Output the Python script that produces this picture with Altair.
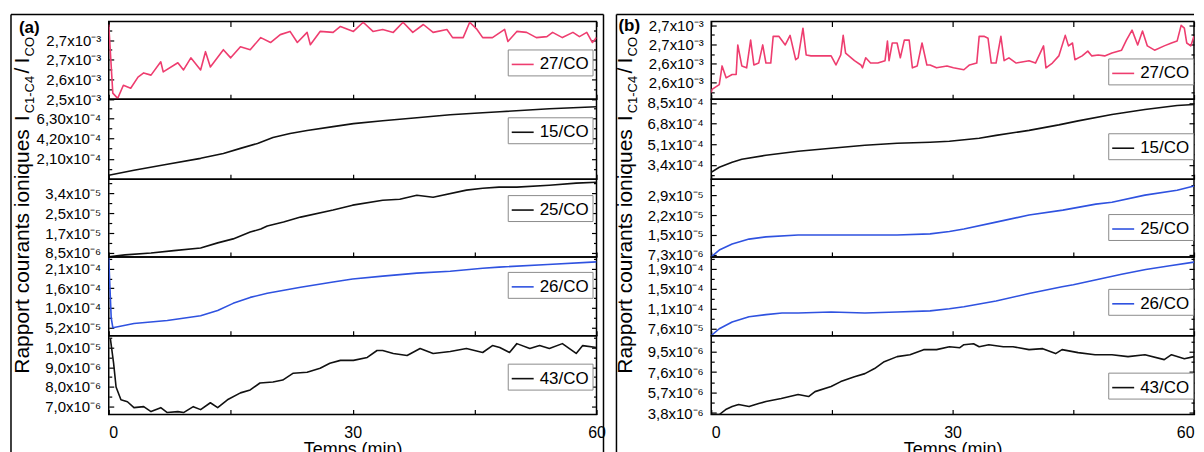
import altair as alt
import pandas as pd

# ---------------- panel (a) ----------------
A27_T = [0, 0.5, 1.1, 1.8, 2.7, 3.6, 4.3, 5.2, 6.4, 6.7, 8.5, 9.2, 10.1, 11.3, 11.9, 12.5, 14.1, 15.0, 16.2, 17.4,
         18.7, 19.9, 21.1, 22.3, 23.2, 24.4, 24.8, 26.0, 27.6, 28.5, 30.1, 31.3, 32.5, 33.7, 35.0, 36.2, 37.4, 38.7,
         39.9, 41.6, 42.3, 43.6, 44.4, 45.3, 46.0, 47.2, 48.7, 49.1, 50.2, 51.4, 52.6, 53.9, 54.6, 55.8, 57.1, 57.9,
         58.8, 59.5, 60]
A27_V = [2.803, 2.525, 2.504, 2.557, 2.545, 2.590, 2.607, 2.598, 2.652, 2.611, 2.648, 2.619, 2.668, 2.619, 2.693,
         2.631, 2.701, 2.668, 2.713, 2.701, 2.750, 2.730, 2.762, 2.775, 2.730, 2.771, 2.721, 2.775, 2.771, 2.795,
         2.775, 2.812, 2.775, 2.783, 2.771, 2.812, 2.771, 2.803, 2.771, 2.783, 2.750, 2.750, 2.812, 2.783, 2.750,
         2.750, 2.783, 2.734, 2.775, 2.771, 2.750, 2.754, 2.771, 2.750, 2.771, 2.754, 2.771, 2.730, 2.750]  # x1e-3

A15_T = [0, 3.1, 7.2, 11.3, 14.1, 16.2, 18.3, 20.2, 22.3, 24.4, 27.6, 30.1, 33.7, 37.9, 42.0, 46.0, 48.1, 54.2, 60]
A15_V = [0.41, 0.92, 1.54, 2.15, 2.66, 3.18, 3.69, 4.30, 4.71, 5.02, 5.43, 5.74, 6.04, 6.35, 6.66, 6.86, 6.97,
         7.27, 7.48]  # x1e-4

A25_T = [0, 2, 5.2, 8, 11.3, 13.4, 15.3, 17.4, 18.7, 19.5, 21.5, 23.6, 27.6, 30, 33.7, 35.8, 37.9, 39.9, 44, 46,
         48, 50.2, 54.2, 57.5, 60]
A25_V = [0.69, 0.77, 0.85, 0.95, 1.06, 1.28, 1.45, 1.74, 1.87, 2.00, 2.17, 2.38, 2.68, 2.89, 3.10, 3.14, 3.31,
         3.23, 3.53, 3.61, 3.66, 3.66, 3.74, 3.83, 3.87]  # x1e-5

A26_T = [0, 0.3, 0.5, 3.1, 7.2, 11.3, 13.4, 15.3, 17.4, 19.5, 23.6, 27.6, 30, 33.7, 37.9, 42, 46, 48, 54, 60]
A26_V = [2.385, 0.79, 0.52, 0.63, 0.71, 0.84, 0.98, 1.17, 1.33, 1.44, 1.60, 1.74, 1.82, 1.90, 1.98, 2.03, 2.11,
         2.14, 2.21, 2.28]  # x1e-4

A43_T = [0.2, 0.6, 0.9, 1.5, 2.3, 3.1, 4.3, 5.2, 6.4, 7.2, 8.5, 9.2, 10.4, 11.3, 12.5, 13.4, 14.6, 16.2, 17.4, 18.6,
         20.2, 21.4, 22.7, 24.4, 26, 27.2, 28.5, 30.1, 31.8, 33, 33.7, 35, 36.7, 38.3, 39.9, 42, 44, 46, 47.2, 48.1,
         49.3, 50.2, 51.8, 53, 54.2, 55.8, 57.5, 58.3, 60]
A43_V = [10.45, 9.2, 8.0, 7.35, 7.25, 6.95, 7.0, 6.75, 6.95, 6.7, 6.75, 6.7, 7.0, 6.85, 7.2, 6.95, 7.35, 7.7, 7.85,
         8.2, 8.25, 8.35, 8.7, 8.75, 8.95, 9.2, 9.35, 9.35, 9.5, 9.85, 9.85, 9.7, 9.6, 9.95, 9.7, 9.8, 9.95, 9.75,
         10.1, 10.0, 9.75, 10.2, 9.95, 10.1, 9.95, 10.2, 9.7, 10.1, 10.0]  # x1e-6

# ---------------- panel (b) ----------------
B27_T = [0, 0.1, 1.0, 1.35, 1.85, 2.6, 3.1, 3.3, 3.8, 4.4, 4.9, 5.3, 5.9, 6.4, 6.8, 7.4, 7.7, 8.4, 9.2, 9.8,
         10.5, 10.8, 11.4, 11.8, 12.4, 14.9, 15.5, 16.1, 16.4, 16.7, 17.8, 18.6, 18.8, 19.2, 19.8, 20.7, 21.6, 21.9,
         22.1, 22.5, 23.1, 23.5, 24.0, 24.6, 25.0, 25.6, 26.2, 26.8, 27.2, 28.0, 29.3, 30.1, 31.4, 32.1, 33.0, 33.3,
         33.9, 34.4, 34.8, 35.4, 36.0, 36.4, 37.0, 37.9, 39.5, 40.3, 41.3, 41.6, 42.4, 43.2, 44.0, 44.4, 44.9, 45.2,
         46.1, 46.8, 47.3, 48.1, 48.9, 49.8, 51.0, 51.6, 52.3, 53.0, 53.6, 54.2, 55.1, 56.3, 57.2, 57.9, 58.4, 58.8,
         59.1, 59.6, 60]
B27_V = [2.559, 2.566, 2.576, 2.615, 2.590, 2.597, 2.597, 2.659, 2.615, 2.611, 2.669, 2.617, 2.621, 2.659, 2.621,
         2.621, 2.677, 2.677, 2.659, 2.679, 2.628, 2.632, 2.694, 2.638, 2.636, 2.636, 2.617, 2.638, 2.679, 2.642,
         2.626, 2.617, 2.611, 2.632, 2.621, 2.621, 2.626, 2.667, 2.626, 2.663, 2.663, 2.632, 2.669, 2.669, 2.611,
         2.615, 2.663, 2.617, 2.617, 2.611, 2.615, 2.611, 2.607, 2.617, 2.621, 2.677, 2.677, 2.673, 2.621, 2.621,
         2.677, 2.626, 2.632, 2.621, 2.626, 2.621, 2.657, 2.611, 2.621, 2.636, 2.679, 2.657, 2.663, 2.628, 2.636,
         2.646, 2.636, 2.638, 2.636, 2.642, 2.648, 2.669, 2.690, 2.659, 2.688, 2.657, 2.648, 2.657, 2.663, 2.667,
         2.700, 2.694, 2.663, 2.657, 2.677]  # x1e-3

B15_T = [0, 1.0, 2.6, 3.8, 6.8, 10.8, 14.9, 19.1, 23.1, 27.2, 29.6, 33.3, 35.4, 39.5, 43.2, 45.6, 49.8, 53.9, 57.9, 60]
B15_V = [2.80, 3.21, 3.62, 3.87, 4.19, 4.52, 4.77, 5.01, 5.18, 5.26, 5.34, 5.59, 5.83, 6.24, 6.69, 7.02, 7.55,
         7.96, 8.29, 8.37]  # x1e-4

B25_T = [0, 1, 2.6, 4.7, 6.8, 10.8, 14.9, 19.1, 23.1, 27.2, 29.6, 31.4, 35.4, 39.5, 43.7, 47.8, 49.8, 53.9, 57.9, 60]
B25_V = [0.66, 0.91, 1.13, 1.31, 1.39, 1.46, 1.46, 1.46, 1.46, 1.50, 1.59, 1.68, 1.93, 2.19, 2.37, 2.59, 2.66,
         2.92, 3.10, 3.25]  # x1e-5

B26_T = [0, 1, 2.6, 4.7, 6.8, 8.8, 10.8, 14.9, 19.1, 23.1, 27.2, 29.6, 31.4, 35.4, 39.5, 43.6, 45, 48, 51, 54, 57, 60]
B26_V = [0.63, 0.76, 0.89, 0.99, 1.03, 1.06, 1.06, 1.08, 1.06, 1.08, 1.10, 1.14, 1.18, 1.29, 1.43, 1.56, 1.60,
         1.70, 1.80, 1.89, 1.96, 2.03]  # x1e-4

B43_T = [0, 1, 1.8, 2.6, 3.4, 4.7, 5.9, 6.8, 8.7, 10.8, 12.1, 12.9, 14.9, 16.1, 17.8, 19.1, 20.3, 21.5, 23.1, 24.7,
         26.4, 28, 29.6, 30.9, 31.4, 32.6, 33.3, 34.5, 36.3, 37.5, 39.5, 41.2, 42.8, 43.6, 45.6, 47.7, 49.8, 51.8,
         53.9, 56.3, 57.2, 58.8, 60]
B43_V = [3.66, 3.66, 4.12, 4.40, 4.59, 4.40, 4.68, 4.87, 5.15, 5.52, 5.33, 5.79, 6.26, 6.72, 7.18, 7.46, 7.93,
         8.57, 9.04, 9.22, 9.69, 9.69, 9.96, 9.87, 10.15, 10.24, 9.96, 10.15, 9.96, 9.96, 9.69, 9.78, 9.32, 9.69,
         9.41, 9.22, 9.22, 9.04, 9.22, 8.76, 9.22, 8.85, 9.04]  # x1e-6

# ---------------- axes (values in the units of each series) ----------------
A27_TICKS = [2.50, 2.58, 2.66, 2.74]
A27_LABELS = ["2,5x10⁻³", "2,6x10⁻³", "2,7x10⁻³", "2,7x10⁻³"]
A15_TICKS = [2.10, 4.20, 6.30]
A15_LABELS = ["2,10x10⁻⁴", "4,20x10⁻⁴", "6,30x10⁻⁴"]
A25_TICKS = [0.85, 1.70, 2.55, 3.40]
A25_LABELS = ["8,5x10⁻⁶", "1,7x10⁻⁵", "2,5x10⁻⁵", "3,4x10⁻⁵"]
A26_TICKS = [0.52, 1.047, 1.574, 2.101]
A26_LABELS = ["5,2x10⁻⁵", "1,0x10⁻⁴", "1,6x10⁻⁴", "2,1x10⁻⁴"]
A43_TICKS = [7.0, 8.0, 9.0, 10.0]
A43_LABELS = ["7,0x10⁻⁶", "8,0x10⁻⁶", "9,0x10⁻⁶", "1,0x10⁻⁵"]

B27_TICKS = [2.58, 2.62, 2.66, 2.70]
B27_LABELS = ["2,6x10⁻³", "2,6x10⁻³", "2,7x10⁻³", "2,7x10⁻³"]
B15_TICKS = [3.4, 5.1, 6.8, 8.5]
B15_LABELS = ["3,4x10⁻⁴", "5,1x10⁻⁴", "6,8x10⁻⁴", "8,5x10⁻⁴"]
B25_TICKS = [0.73, 1.46, 2.19, 2.92]
B25_LABELS = ["7,3x10⁻⁶", "1,5x10⁻⁵", "2,2x10⁻⁵", "2,9x10⁻⁵"]
B26_TICKS = [0.76, 1.14, 1.52, 1.90]
B26_LABELS = ["7,6x10⁻⁵", "1,1x10⁻⁴", "1,5x10⁻⁴", "1,9x10⁻⁴"]
B43_TICKS = [3.8, 5.7, 7.6, 9.5]
B43_LABELS = ["3,8x10⁻⁶", "5,7x10⁻⁶", "7,6x10⁻⁶", "9,5x10⁻⁶"]

NAMES = ["27/CO", "15/CO", "25/CO", "26/CO", "43/CO"]
EXPONENTS = [-3, -4, -5, -4, -6]
X_TICKS = [0, 15, 30, 45, 60]
X_TITLE = "Temps (min)"
Y_TITLE_PARTS = ["Rapport courants ioniques", "I", "C1-C4", "/", "I", "CO"]
PANEL_LETTERS = ["(a)", "(b)"]

FONT = "Liberation Sans"
PINK = "#ee3d6f"
BLACK = "#111111"
BLUE = "#2f52e0"
INWARD = {"expr": "-5"}
INWARD_MINOR = {"expr": "-3"}

A_SERIES = [(A27_T, A27_V, PINK, A27_TICKS, A27_LABELS, [2.50, 2.815]),
            (A15_T, A15_V, BLACK, A15_TICKS, A15_LABELS, [0.0, 8.25]),
            (A25_T, A25_V, BLACK, A25_TICKS, A25_LABELS, [0.68, 4.0]),
            (A26_T, A26_V, BLUE, A26_TICKS, A26_LABELS, [0.304, 2.412]),
            (A43_T, A43_V, BLACK, A43_TICKS, A43_LABELS, [6.6, 10.6])]
B_SERIES = [(B27_T, B27_V, PINK, B27_TICKS, B27_LABELS, [2.545, 2.708]),
            (B15_T, B15_V, BLACK, B15_TICKS, B15_LABELS, [2.23, 8.79]),
            (B25_T, B25_V, BLUE, B25_TICKS, B25_LABELS, [0.657, 3.504]),
            (B26_T, B26_V, BLUE, B26_TICKS, B26_LABELS, [0.627, 2.128]),
            (B43_T, B43_V, BLACK, B43_TICKS, B43_LABELS, [3.66, 10.98])]

HEIGHTS = [78, 80, 78, 79, 79]
WIDTHS = [489, 484]
LEG_X = [400, 398]
LEG_Y = [[28, 18, 16, 15, 28], [37, 34, 35, 32, 37]]


def label_expr(vals, labs):
    expr = "'" + labs[-1] + "'"
    for i in range(len(vals) - 2, -1, -1):
        mid = (vals[i] + vals[i + 1]) / 2
        expr = "datum.value < %r ? '%s' : (%s)" % (mid, labs[i], expr)
    return expr


def minor_values(ticks, lo, hi):
    step = ticks[1] - ticks[0]
    out = []
    m = ticks[0] - step / 2
    while m - step > lo:
        m -= step
    while m < hi:
        if m > lo:
            out.append(m)
        m += step
    return out


def decorations(letter, base_x, letter_x, letter_y, frame_left, frame_right, right_edge):
    """Panel frame, panel letter and rotated y title, placed around the top sub-plot."""
    base = alt.Chart(pd.DataFrame({"k": [0]}))
    sizes = [21, 21, 13, 21, 21, 13]
    offs = [(0, 0), (253, 0), (261, 5), (301, 0), (311, 0), (318, 5)]
    layers = []
    for txt, fs, (dx, dy) in zip(Y_TITLE_PARTS, sizes, offs):
        layers.append(base.mark_text(text=txt, angle=270, align="left", baseline="alphabetic", fontSize=fs,
                                     font=FONT, dx=dx, dy=dy, color="black")
                      .encode(x=alt.value(base_x), y=alt.value(353)))
    layers.append(base.mark_text(text=letter, align="left", baseline="top", fontSize=17, fontWeight="bold",
                                 font=FONT, color="black").encode(x=alt.value(letter_x), y=alt.value(letter_y)))
    layers.append(base.mark_rule(color="black", strokeWidth=1.5)
                  .encode(x=alt.value(frame_left), y=alt.value(-7), y2=alt.value(432)))
    layers.append(base.mark_rule(color="black", strokeWidth=1.5)
                  .encode(x=alt.value(frame_left), x2=alt.value(frame_right), y=alt.value(-7)))
    if right_edge:
        layers.append(base.mark_rule(color="black", strokeWidth=1.5)
                      .encode(x=alt.value(frame_right), y=alt.value(-7), y2=alt.value(432)))
    return layers


def subplot(t, v, exp, name, color, ticks, labels, domain, width, height, first, last, leg_x, leg_y,
            extra, panel):
    f = 10.0 ** exp
    df = pd.DataFrame({"t": t, "v": [x * f for x in v], "s": name})
    yv = [x * f for x in ticks]
    ymin = [x * f for x in minor_values(ticks, domain[0], domain[1])]
    ysc = alt.Scale(domain=[domain[0] * f, domain[1] * f], nice=False, zero=False)
    xsc = alt.Scale(domain=[0, 60], nice=False, zero=False)
    if last:
        common = dict(values=X_TICKS, tickSize=INWARD,
                      labelExpr="datum.value % 30 === 0 ? datum.label : ''",
                      labelFontSize=16, labelPadding=15,
                      title=X_TITLE, titleFontSize=18, titleFontWeight="normal", titlePadding=0)
        if panel == 0:
            xax = alt.Axis(labelFlush=False,
                           labelAlign={"condition": {"test": "datum.value === 0", "value": "left"},
                                       "value": "center"}, **common)
        else:
            xax = alt.Axis(labelFlush=True, **common)
    else:
        xax = alt.Axis(values=X_TICKS, tickSize=INWARD, labels=False, title=None)
    yax = alt.Axis(values=yv, tickSize=INWARD, labelExpr=label_expr(yv, labels), labelFontSize=15,
                   labelPadding=13, labelOverlap=False, title=None)
    leg = alt.Legend(orient="none", legendX=leg_x, legendY=leg_y, title=None, symbolType="stroke",
                     symbolSize=484, symbolStrokeWidth=1.6, labelFontSize=17, labelFont=FONT,
                     labelColor="black", strokeColor="#8c8c8c", fillColor="white", padding=3, labelOffset=5)
    line = alt.Chart(df).mark_line(clip=True, strokeWidth=1.6, strokeJoin="round").encode(
        x=alt.X("t:Q", scale=xsc, axis=xax),
        y=alt.Y("v:Q", scale=ysc, axis=yax),
        color=alt.Color("s:N", scale=alt.Scale(domain=[name], range=[color]), legend=leg),
    )
    top_ax = alt.Axis(orient="top", values=X_TICKS, tickSize=INWARD, labels=False, title=None) if first else None
    mirror = alt.Chart(df).mark_line(opacity=0, clip=True).encode(
        x=alt.X("t:Q", scale=xsc, axis=top_ax),
        y=alt.Y("v:Q", scale=ysc,
                axis=alt.Axis(orient="right", values=yv, tickSize=INWARD, labels=False, title=None)),
    )
    minor_l = alt.Chart(df).mark_line(opacity=0, clip=True).encode(
        x=alt.X("t:Q", scale=xsc, axis=None),
        y=alt.Y("v:Q", scale=ysc,
                axis=alt.Axis(orient="left", values=ymin, tickSize=INWARD_MINOR, labels=False, title=None)),
    )
    minor_r = alt.Chart(df).mark_line(opacity=0, clip=True).encode(
        x=alt.X("t:Q", scale=xsc, axis=None),
        y=alt.Y("v:Q", scale=ysc,
                axis=alt.Axis(orient="right", values=ymin, tickSize=INWARD_MINOR, labels=False, title=None)),
    )
    return alt.layer(line, mirror, minor_l, minor_r, *extra).resolve_axis(
        x="independent", y="independent").properties(width=width, height=height)


DECOR = [decorations(PANEL_LETTERS[0], -80, -90, -2, -98, 496, True),
         decorations(PANEL_LETTERS[1], -79, -93, -4, -95, 484, False)]

cells = []
for i in range(5):
    for p, series in enumerate([A_SERIES, B_SERIES]):
        t, v, col, tk, lb, dom = series[i]
        cells.append(subplot(t, v, EXPONENTS[i], NAMES[i], col, tk, lb, dom, WIDTHS[p], HEIGHTS[i],
                             i == 0, i == 4, LEG_X[p], LEG_Y[p][i], DECOR[p] if i == 0 else [], p))

chart = alt.concat(*cells, columns=2, spacing={"row": 0, "column": 115}, bounds="flush").resolve_scale(
    x="independent", y="independent", color="independent"
).configure_view(stroke="black", strokeWidth=1.5).configure_axis(
    labelFont=FONT, titleFont=FONT, labelColor="black", titleColor="black", tickColor="black",
    tickWidth=1.2, domain=False, grid=False
).properties(padding={"left": 1, "top": 4, "right": 0, "bottom": 0})

chart.save("out.html", embed_options={"renderer": "svg", "actions": False})
